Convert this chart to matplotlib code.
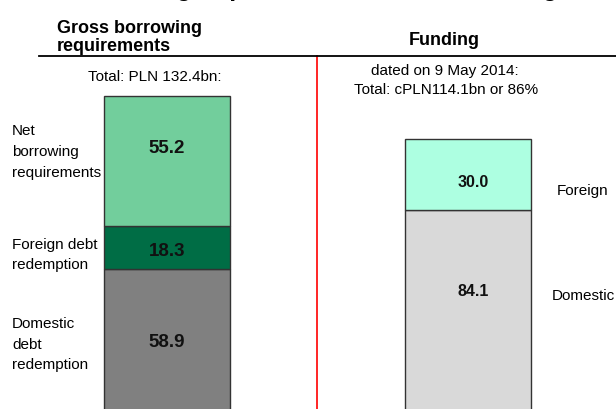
import numpy as np
import matplotlib.pyplot as plt
from matplotlib.lines import Line2D

plt.rcParams['font.family'] = ['Liberation Sans', 'DejaVu Sans']

# ======================== Data =============================
# left stack: gross borrowing requirements (bottom -> top)
need_labels = ['Domestic\ndebt\nredemption', 'Foreign debt\nredemption', 'Net\nborrowing\nrequirements']
need_values = [58.9, 18.3, 55.2]
need_colors = ['#808080', '#006d45', '#72ce9c']
need_frac = [0.48, 0.42, 0.60]      # where the value label sits inside its block

# right stack: funding (bottom -> top)
fund_labels = ['Domestic', 'Foreign']
fund_values = [84.1, 30.0]
fund_colors = ['#d9d9d9', '#adffe1']
fund_frac = [0.59, 0.40]

W, H = 616, 410
fig = plt.figure(figsize=(W/100, H/100), dpi=100)
ax = fig.add_axes([0, 0, 1, 1])
ax.set_xlim(-0.556, 1.494)
ax.set_ylim(-0.42, 173.4)
ax.axis('off')

px = lambda x: x / W
py = lambda y: 1 - y / H

bw = 0.419
edge = '#333333'

# >>>>> left bar (bars start a bit below the visible area, so no bottom edge shows)
start = -3
bottom = 0
for v, c, f in zip(need_values, need_colors, need_frac):
    b = bottom if bottom > 0 else start
    ax.bar(0, bottom + v - b, bw, bottom=b, color=c, edgecolor=edge, linewidth=1.0)
    ax.text(0, bottom + v*f, f'{v:.1f}', ha='center', va='center',
            fontsize=13.5, fontweight='bold', color='#111111')
    bottom += v

# >>>>> right bar
bottom = 0
for v, c, f in zip(fund_values, fund_colors, fund_frac):
    b = bottom if bottom > 0 else start
    ax.bar(1, bottom + v - b, bw, bottom=b, color=c, edgecolor=edge, linewidth=1.0)
    ax.text(1.02, bottom + v*f, f'{v:.1f}', ha='center', va='center',
            fontsize=11.5, fontweight='bold', color='#111111')
    bottom += v

# divider lines
ax.axvline(0.5, ymin=0, ymax=py(57), color='#ff0000', linewidth=1.2)
fig.add_artist(Line2D([px(39), 1], [py(57), py(57)], color='black', linewidth=1.3))

# ======================== Texts ==========================
# title is cropped off at the top in the reference, only descenders show
fig.text(px(314), py(-4), 'Borrowing requirements and their funding', ha='center',
         va='baseline', fontsize=17.5, fontweight='bold')
fig.text(px(57), py(33), 'Gross borrowing', fontsize=13, fontweight='bold', va='baseline')
fig.text(px(57), py(51), 'requirements', fontsize=13, fontweight='bold', va='baseline')
fig.text(px(409), py(45), 'Funding', fontsize=13, fontweight='bold', va='baseline')

fig.text(px(155), py(81.5), 'Total: PLN 132.4bn:', fontsize=11, ha='center', va='baseline')
fig.text(px(445), py(75.5), 'dated on 9 May 2014:', fontsize=11, ha='center', va='baseline')
fig.text(px(446), py(94.5), 'Total: cPLN114.1bn or 86%', fontsize=11, ha='center', va='baseline')

# side labels of left bar (baselines of each line)
left_baselines = [[328, 349, 369], [249, 269], [135, 156, 177]]
for lab, bl in zip(need_labels, left_baselines):
    for line, y in zip(lab.split('\n'), bl):
        fig.text(px(12), py(y), line, fontsize=11, va='baseline')

# side labels of right bar
right_pos = [(552, 300), (557, 195)]
for lab, (x, y) in zip(fund_labels, right_pos):
    fig.text(px(x), py(y), lab, fontsize=11, va='baseline')

fig.savefig('out.png', dpi=100)
